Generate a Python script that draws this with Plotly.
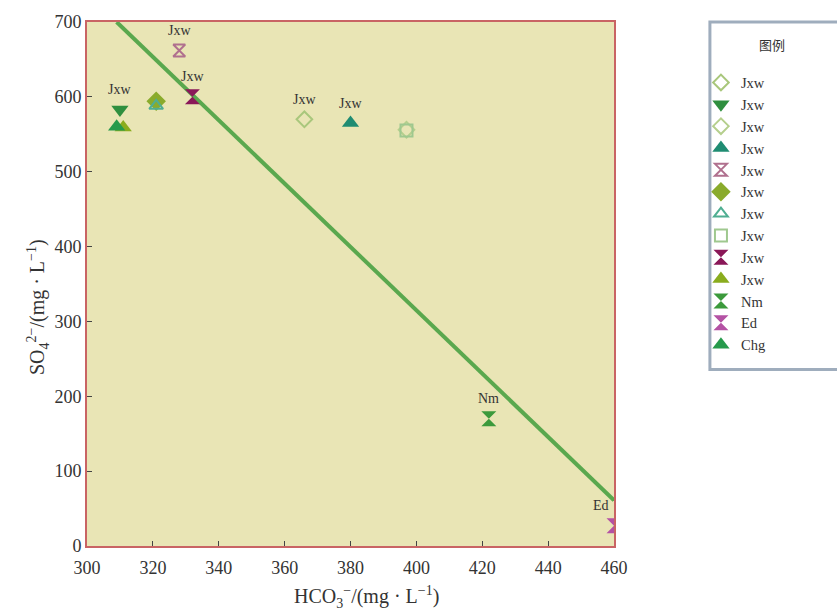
import plotly.graph_objects as go

# ---- data ----
names = ["Jxw", "Jxw", "Jxw", "Jxw", "Jxw", "Jxw", "Jxw", "Jxw", "Jxw", "Jxw", "Nm", "Ed", "Chg"]
hco3 = [366, 310, 397, 380, 328, 321, 321, 397, 332, 311, 422, 460, 309]
so4 = [570, 583, 556, 565, 662, 594, 588, 555, 600, 559, 170, 27, 560]
symbols = ["diamond-open", "triangle-down", "diamond-open", "triangle-up", "hourglass-open",
           "diamond", "triangle-up-open", "square-open", "hourglass", "triangle-up",
           "hourglass", "hourglass", "triangle-up"]
colors = ["#a9c77c", "#2f8f3f", "#b5cf8d", "#1f8c72", "#b0708e",
          "#8aab2c", "#4fae92", "#9fc88f", "#8a1858", "#8aac1e",
          "#3c9a3c", "#b452a4", "#269a4c"]

label_text = ["Jxw", "Jxw", "Jxw", "Jxw", "Jxw", "Nm", "Ed"]
label_x = [310, 328, 332, 366, 380, 422, 456]
label_y = [583, 662, 600, 570, 565, 170, 27]

line_x = [309, 460]
line_y = [700, 61]

xticks = [300, 320, 340, 360, 380, 400, 420, 440, 460]
yticks = [0, 100, 200, 300, 400, 500, 600, 700]

x_title = "HCO<sub>3</sub><sup>−</sup>/(mg · L<sup>−1</sup>)"
y_title = "SO<sub>4</sub><sup>2−</sup>/(mg · L<sup>−1</sup>)"

serif = "Liberation Serif, Times New Roman, serif"

fig = go.Figure()
fig.add_trace(go.Scatter(x=line_x, y=line_y, mode="lines",
                         line=dict(color="#5aa84e", width=4), showlegend=False,
                         hoverinfo="skip"))
for n, xv, yv, s, c in zip(names, hco3, so4, symbols, colors):
    is_open = "open" in s
    fig.add_trace(go.Scatter(x=[xv], y=[yv], mode="markers", name=n,
                             marker=dict(symbol=s, color=c, size=12 if is_open else 15,
                                         line=dict(color=c, width=2 if is_open else 0))))

for t, xv, yv in zip(label_text, label_x, label_y):
    fig.add_annotation(x=xv, y=yv, text=t, showarrow=False, yshift=20,
                       font=dict(family=serif, size=14, color="#333333"))

# axis titles as annotations (placed like the reference)
fig.add_annotation(xref="paper", yref="paper", x=0.531, y=-0.098, text=x_title,
                   showarrow=False, xanchor="center", yanchor="middle",
                   font=dict(family=serif, size=20, color="#333333"))
fig.add_annotation(xref="paper", yref="paper", x=-0.093, y=0.456, text=y_title,
                   showarrow=False, textangle=-90, xanchor="center", yanchor="middle",
                   font=dict(family=serif, size=20, color="#333333"))

# legend frame and title
fig.add_shape(type="rect", xref="paper", yref="paper", x0=1.182, x1=1.45, y0=0.337, y1=1.0,
              line=dict(color="#9fadbd", width=3), fillcolor="rgba(0,0,0,0)", layer="below")
fig.add_annotation(xref="paper", yref="paper", x=1.2715, y=0.957, xanchor="left", yanchor="middle",
                   text="图例", showarrow=False,
                   font=dict(family="Noto Sans CJK SC", size=13, color="#333333"))

axis_common = dict(showline=True, mirror=True, linecolor="#c96464", linewidth=2,
                   ticks="inside", ticklen=5, tickcolor="#444444", showgrid=False,
                   zeroline=False, tickfont=dict(family=serif, size=18, color="#333333"))

fig.update_layout(
    width=837, height=613,
    margin=dict(l=87, r=223, t=18, b=67),
    paper_bgcolor="white",
    plot_bgcolor="#e9e5b5",
    xaxis=dict(range=[300, 460], tickvals=xticks, ticklabelstandoff=4, **axis_common),
    yaxis=dict(range=[0, 700], tickvals=yticks, **axis_common),
    legend=dict(x=1.165, xanchor="left", y=0.915, yanchor="top",
                bgcolor="rgba(0,0,0,0)", borderwidth=0,
                font=dict(family=serif, size=14.5, color="#333333"),
                tracegroupgap=0),
    showlegend=True,
)

fig.write_html("out.html")
